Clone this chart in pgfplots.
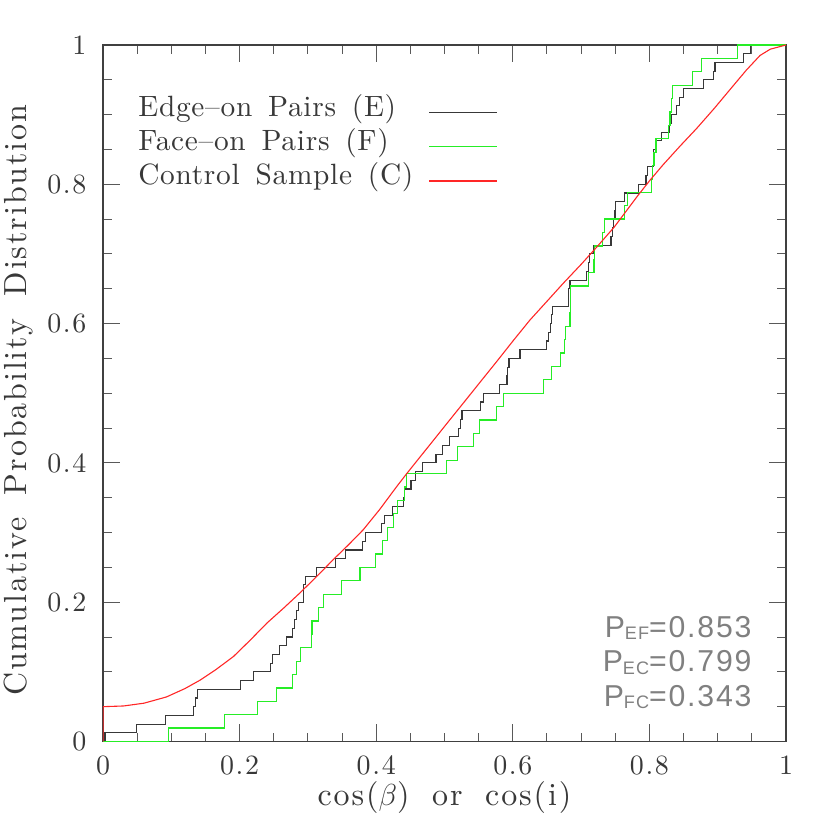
\documentclass[border=0pt]{standalone}
\usepackage{fontspec}
\usepackage{pgfplots}
\pgfplotsset{compat=1.18}
\newfontfamily\hersh{lmroman10-regular}[Extension=.otf, LetterSpace=6, WordSpace=1.8]
\newfontfamily\hleg{lmroman10-regular}[Extension=.otf, LetterSpace=2.5, WordSpace=1.5]
\newfontfamily\psans{Liberation Sans}[LetterSpace=6]
\newcommand{\hfont}[1]{\hersh\fontsize{#1}{#1}\selectfont}
\definecolor{eline}{rgb}{0.22,0.22,0.22}
\definecolor{fline}{rgb}{0.15,0.93,0.15}
\definecolor{cline}{rgb}{1,0.15,0.15}

\begin{document}
\begin{tikzpicture}
\useasboundingbox (-20.6mm,-17.7mm) rectangle (145.4mm,148.3mm);
\begin{axis}[
    at={(0,0)}, anchor=south west,
    scale only axis,
    width=136.6mm, height=139.3mm,
    xmin=0, xmax=1, ymin=0, ymax=1,
    xtick={0,0.2,0.4,0.6,0.8,1},
    ytick={0,0.2,0.4,0.6,0.8,1},
    minor x tick num=3, minor y tick num=3,
    tick align=inside,
    major tick length=3.5mm, minor tick length=1.8mm,
    tick style={black!65, line width=0.2mm},
    axis line style={black!75, line width=0.22mm},
    /pgf/number format/assume math mode=true,
    xticklabel style={anchor=base, inner sep=0pt, yshift=-6.56mm, font=\hfont{15.9}, text=black!78},
    yticklabel style={anchor=east, inner sep=0pt, xshift=-3.26mm, font=\hfont{15.9}, text=black!78},
    xlabel={cos($\beta$) or cos(i)},
    ylabel={Cumulative Probability Distribution},
    xlabel style={at={(axis description cs:0.5,-0.0912)}, anchor=base, inner sep=0pt, font=\hfont{18.2}, text=black!78},
    ylabel style={at={(axis description cs:-0.1127,0.49)}, anchor=base, inner sep=0pt, font=\hfont{18.2}, text=black!78},
    legend plot pos=right,
    legend cell align=left,
    legend image code/.code={\draw[#1, line width=0.25mm] (0mm,-0.6mm) -- (13.6mm,-0.6mm);},
    legend style={at={(0.0512,0.9275)}, anchor=north west, draw=none, fill=none,
        inner sep=0pt, row sep=1.34mm, column sep=3mm, text=black!78,
        nodes={inner sep=0pt, text height=4.1mm, text depth=1.4mm, font=\hleg\fontsize{16.7}{16.7}\selectfont}},
]
% Edge-on pairs, 80 objects
\addplot[eline, line width=0.22mm, const plot mark left] coordinates {
(0,0) (0.003,0.0125) (0.049,0.025) (0.091,0.0375) (0.133,0.05) (0.135,0.0625)
(0.139,0.075) (0.201,0.0875) (0.220,0.1) (0.2455,0.1125) (0.248,0.125)
(0.259,0.1375) (0.269,0.15) (0.277,0.1625) (0.280,0.175) (0.283,0.1875)
(0.2865,0.2) (0.293,0.2125) (0.2935,0.225) (0.296,0.2375) (0.312,0.25)
(0.340,0.2625) (0.355,0.275) (0.380,0.2875) (0.384,0.3) (0.408,0.3125)
(0.412,0.325) (0.424,0.3375) (0.4397,0.35) (0.441,0.3625) (0.451,0.375)
(0.457,0.3875) (0.4675,0.4) (0.4876,0.4125) (0.497,0.425) (0.507,0.4375)
(0.520,0.45) (0.523,0.4625) (0.5256,0.475) (0.553,0.4875) (0.557,0.5)
(0.581,0.5125) (0.5915,0.525) (0.592,0.5375) (0.5944,0.55) (0.6105,0.5625)
(0.6496,0.575) (0.652,0.5875) (0.6554,0.6) (0.657,0.6125) (0.6575,0.625)
(0.6813,0.6375) (0.6815,0.65) (0.6837,0.6625) (0.7082,0.675) (0.7106,0.6875)
(0.712,0.7) (0.7189,0.7125) (0.7438,0.725) (0.7457,0.7375) (0.748,0.75)
(0.7496,0.7625) (0.751,0.775) (0.764,0.7875) (0.7838,0.8) (0.795,0.8125)
(0.797,0.825) (0.8057,0.8375) (0.806,0.85) (0.8106,0.8625) (0.818,0.875)
(0.829,0.8875) (0.8326,0.9) (0.840,0.9125) (0.8438,0.925) (0.850,0.9375)
(0.879,0.95) (0.8936,0.9625) (0.896,0.975) (0.9375,0.9875) (0.948,1) (1,1)
};
\addlegendentry{Edge–on Pairs (E)}
% Face-on pairs, 52 objects
\addplot[fline, line width=0.25mm, const plot mark left] coordinates {
(0,0) (0.0957,0.01923) (0.178,0.03846) (0.226,0.05769) (0.2537,0.07692)
(0.277,0.09615) (0.283,0.11538) (0.289,0.13462) (0.3055,0.15385) (0.306,0.17308)
(0.315,0.19231) (0.3226,0.21154) (0.3494,0.23077) (0.3763,0.25) (0.399,0.26923)
(0.409,0.28846) (0.4168,0.30769) (0.425,0.32692) (0.431,0.34615) (0.441,0.36538)
(0.4446,0.38462) (0.5027,0.40385) (0.519,0.42308) (0.5427,0.44231) (0.5515,0.46154)
(0.576,0.48077) (0.5867,0.5) (0.6447,0.51923) (0.657,0.53846) (0.670,0.55769)
(0.6755,0.57692) (0.677,0.59615) (0.6837,0.61538) (0.684,0.63462) (0.685,0.65385)
(0.7106,0.67308) (0.719,0.69231) (0.720,0.71154) (0.7316,0.73077) (0.734,0.75)
(0.764,0.76923) (0.768,0.78846) (0.803,0.80769) (0.804,0.82692) (0.8067,0.84615)
(0.8097,0.86538) (0.8277,0.88462) (0.830,0.90385) (0.8326,0.92308) (0.834,0.94231)
(0.8634,0.96154) (0.8765,0.98077) (0.9287,1) (1,1)
};
\addlegendentry{Face–on Pairs (F)}
% Control sample
\addplot[cline, line width=0.22mm] coordinates {
(0,0) (0,0.05) (0.03,0.051) (0.06,0.055) (0.093,0.064) (0.12,0.076) (0.142,0.088)
(0.165,0.103) (0.191,0.122) (0.215,0.145) (0.24,0.17) (0.265,0.192) (0.288,0.213)
(0.313,0.237) (0.337,0.261) (0.36,0.283) (0.381,0.304) (0.405,0.333) (0.43,0.366)
(0.4446,0.3845) (0.479,0.4266) (0.503,0.456) (0.5275,0.4858) (0.552,0.5158)
(0.576,0.545) (0.601,0.576) (0.625,0.605) (0.65,0.632) (0.674,0.658) (0.70,0.685)
(0.723,0.71) (0.748,0.738) (0.7838,0.7847) (0.801,0.806) (0.82,0.828) (0.845,0.855)
(0.869,0.88) (0.895,0.909) (0.918,0.936) (0.942,0.964) (0.962,0.985) (0.977,0.994) (1,1)
};
\addlegendentry{Control Sample (C)}
\node[anchor=base east, inner sep=0pt, text=black!50, font=\psans\fontsize{17.2}{17.2}\selectfont] at (axis cs:0.95,0.15)
  {P\raisebox{-0.45mm}{\fontsize{10.3}{10.3}\selectfont EF}=0.853};
\node[anchor=base east, inner sep=0pt, text=black!50, font=\psans\fontsize{17.2}{17.2}\selectfont] at (axis cs:0.95,0.10)
  {P\raisebox{-0.45mm}{\fontsize{10.3}{10.3}\selectfont EC}=0.799};
\node[anchor=base east, inner sep=0pt, text=black!50, font=\psans\fontsize{17.2}{17.2}\selectfont] at (axis cs:0.95,0.05)
  {P\raisebox{-0.45mm}{\fontsize{10.3}{10.3}\selectfont FC}=0.343};
\end{axis}
\end{tikzpicture}
\end{document}
